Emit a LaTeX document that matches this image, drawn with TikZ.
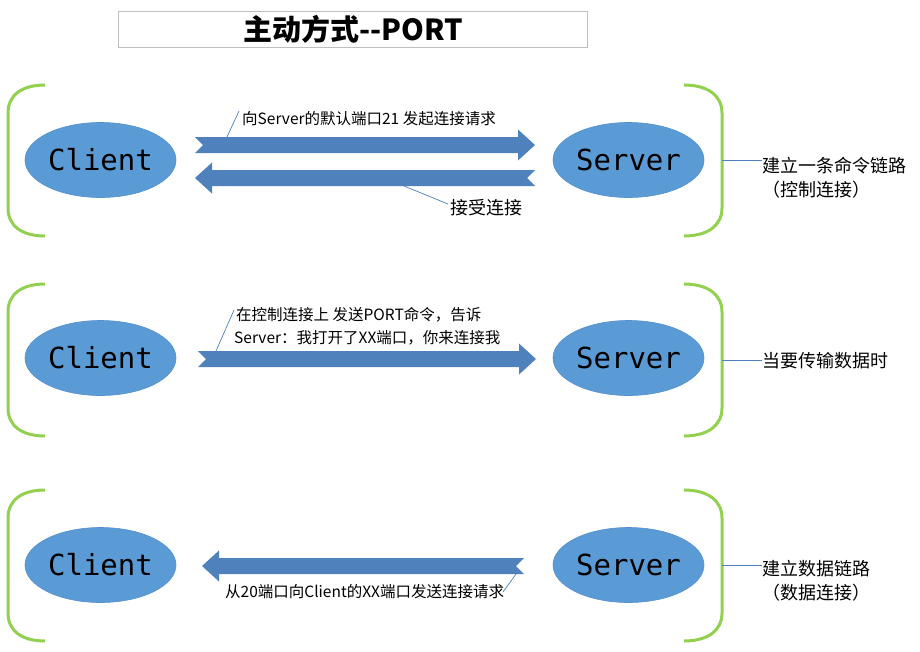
\documentclass[tikz,border=0pt]{standalone}
\usepackage{fontspec}
\newfontfamily\cjk{Noto Sans CJK SC}
\newfontfamily\monofam{DejaVu Sans Mono}
\usetikzlibrary{shapes.geometric}
\definecolor{ellfill}{HTML}{5B9BD5}
\definecolor{ellline}{HTML}{5590CC}
\definecolor{arrfill}{HTML}{4F81BD}
\definecolor{brk}{HTML}{92D050}
\definecolor{callout}{HTML}{4F81BD}
\definecolor{boxgray}{HTML}{BFBFBF}
% name, tail x, head x, y
\newcommand\fatarrow[4]{%
  \pgfmathsetmacro\ad{sign(#3-#2)}%
  \fill[arrfill] (#2,#4-8) -- ({#3-17*\ad},#4-8) -- ({#3-17*\ad},#4-15.5) -- (#3,#4)
    -- ({#3-17*\ad},#4+15.5) -- ({#3-17*\ad},#4+8) -- (#2,#4+8) -- ({#2+8*\ad},#4) -- cycle;
  \coordinate (#1) at ({(#2+#3)/2},#4);}
% left bracket: top, bottom
\newcommand\leftbrk[2]{%
  \draw[brkline] (45,#1) .. controls (22,#1) and (8,#1+10) .. (8,#1+28) -- (8,#2-28)
    .. controls (8,#2-10) and (22,#2) .. (45,#2);}
\newcommand\rightbrk[2]{%
  \draw[brkline] (684,#1) .. controls (707,#1) and (722,#1+10) .. (722,#1+28) -- (722,#2-28)
    .. controls (722,#2-10) and (707,#2) .. (684,#2);}
\begin{document}
\begin{tikzpicture}[x=1pt,y=-1pt,
  ell/.style={ellipse,fill=ellfill,draw=ellline,line width=0.6pt,minimum width=151pt,minimum height=75pt,inner sep=0pt,font=\monofam\fontsize{29}{29}\selectfont},
  brkline/.style={draw=brk,line width=3pt},
  callline/.style={draw=callout,line width=0.7pt},
  lab/.style={inner sep=0pt,anchor=base west,font=\cjk\fontsize{15.5}{15.5}\selectfont},
  smalllab/.style={inner sep=0pt,anchor=base west,font=\cjk\fontsize{15.5}{15.5}\selectfont},
  biglab/.style={inner sep=0pt,anchor=base west,font=\cjk\fontsize{18}{18}\selectfont},
  tick/.style={draw=callout,line width=0.7pt}]
\useasboundingbox (0,0) rectangle (920,651);
\fill[white] (0,0) rectangle (920,651);

% title
\node[draw=boxgray,line width=1pt,minimum width=469pt,minimum height=36pt,inner sep=0pt] (titlebox) at (352.5,29) {};
\node[inner sep=0pt,anchor=base,font=\cjk\bfseries\fontsize{29}{29}\selectfont] (title) at (353,40) {主动方式--PORT};

% ---------- row 1 ----------
\leftbrk{85}{236}
\rightbrk{85}{236}
\node[ell] (c1) at (100.5,160) {Client};
\node[ell] (s1) at (628.5,160) {Server};
\fatarrow{a1}{195}{535}{145}
\fatarrow{a2}{535}{195}{178}
\node[lab] (l1) at (242,124) {向Server的默认端口21 发起连接请求};
\coordinate (l1p) at (239,111);
\coordinate (a1p) at (227,137);
\draw[callline] (l1p) -- (a1p);
\node[biglab] (l2) at (450,214) {接受连接};
\coordinate (l2p) at (448,204);
\coordinate (a2p) at (404,186);
\draw[callline] (l2p) -- (a2p);
\coordinate (b1) at (722,160);
\node[biglab] (r1a) at (762,172) {建立一条命令链路};
\node[biglab] (r1b) at (762,196) {（控制连接）};
\draw[tick] (b1) -- (r1a.base west |- b1);

% ---------- row 2 ----------
\leftbrk{284}{436}
\rightbrk{284}{436}
\node[ell] (c2) at (100.5,358) {Client};
\node[ell] (s2) at (628.5,358) {Server};
\fatarrow{a3}{198}{536}{359}
\node[smalllab] (l3a) at (236,320) {在控制连接上 发送PORT命令，告诉};
\node[smalllab] (l3b) at (234,343) {Server：我打开了XX端口，你来连接我};
\coordinate (l3p) at (234,310);
\coordinate (a3p) at (216,351);
\draw[callline] (l3p) -- (a3p);
\coordinate (b2) at (722,360);
\node[biglab] (r2) at (762,367) {当要传输数据时};
\draw[tick] (b2) -- (r2.base west |- b2);

% ---------- row 3 ----------
\leftbrk{490}{641}
\rightbrk{490}{641}
\node[ell] (c3) at (100.5,565) {Client};
\node[ell] (s3) at (628.5,565) {Server};
\fatarrow{a4}{524}{202}{566}
\node[lab] (l4) at (225,597) {从20端口向Client的XX端口发送连接请求};
\coordinate (l4p) at (503,592);
\coordinate (a4p) at (516,574);
\draw[callline] (l4p) -- (a4p);
\coordinate (b3) at (722,565);
\node[biglab] (r3a) at (762,575) {建立数据链路};
\node[biglab] (r3b) at (762,599) {（数据连接）};
\draw[tick] (b3) -- (r3a.base west |- b3);
\end{tikzpicture}
\end{document}
